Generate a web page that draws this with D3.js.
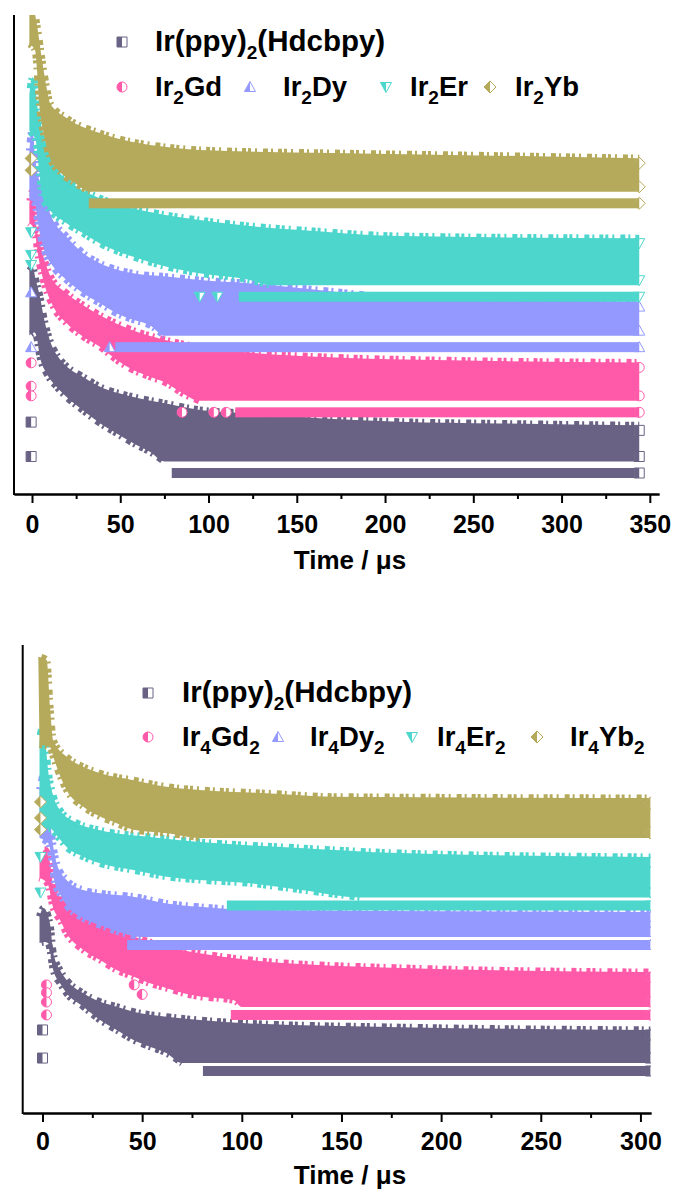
<!DOCTYPE html>
<html>
<head>
<meta charset="utf-8">
<script src="https://cdn.jsdelivr.net/npm/d3@7"></script>
<style>
  body { margin: 0; background: #fff; }
  svg { display: block; font-family: "Liberation Sans", Arial, sans-serif; }
</style>
</head>
<body>
<svg id="chart" width="676" height="1192"></svg>
<script>
// ---- data (time in µs, photon counts per channel) ----
const seriesColors = ['#696284', '#ff5aa9', '#9399ff', '#4cd6cc', '#b5aa5b'];
const seriesShapes = ['square', 'circle', 'triangle', 'triangleDown', 'diamond'];

const legendTop = ['Ir(ppy)_{2}(Hdcbpy)', 'Ir_{2}Gd', 'Ir_{2}Dy', 'Ir_{2}Er', 'Ir_{2}Yb'];
const legendBottom = ['Ir(ppy)_{2}(Hdcbpy)', 'Ir_{4}Gd_{2}', 'Ir_{4}Dy_{2}', 'Ir_{4}Er_{2}', 'Ir_{4}Yb_{2}'];

const xTicksTop = [0, 50, 100, 150, 200, 250, 300, 350];
const xMinorTop = [25, 75, 125, 175, 225, 275, 325];
const xTicksBottom = [0, 50, 100, 150, 200, 250, 300];
const xMinorBottom = [25, 75, 125, 175, 225, 275];

// vertical offset factors used to stack the curves
const offsetsTop = [1, 12.8, 198, 1648, 83500];
const offsetsBottom = [1, 20.1, 851, 7060, 171000];

// upper / lower edge of each point cloud: [t, counts]
const topUpper = [
  [[-1.5, 4000], [0.5, 4500], [2, 2800], [4.5, 1340], [7, 500], [10, 220], [15, 105], [20, 70], [29, 46], [38, 31], [57, 20], [76, 15], [95, 11.5], [123, 10], [165, 8], [208, 7], [265, 6.5], [344, 6]],
  [[-1.5, 5000], [0, 8500], [2.3, 2100], [6.2, 600], [10.2, 257], [19.6, 121], [29, 73], [38.5, 48], [57, 25.5], [76, 16.8], [95, 12.5], [123, 10], [169, 8.2], [237, 7.2], [344, 6.6]],
  [[-1.5, 3000], [0, 7400], [2.3, 1700], [6.2, 600], [10.2, 225], [19.6, 84], [29, 42], [38.5, 27.5], [57.4, 18], [76.3, 15.7], [95, 13.6], [123, 11.9], [169, 8.5], [208, 6.5], [344, 5.5]],
  [[-1.5, 4000], [0.5, 8300], [3.4, 2070], [7.4, 587], [13, 205], [24.3, 88], [38.5, 51], [66.8, 28.5], [95, 20.3], [123.4, 15.8], [151.7, 13.4], [208, 10.4], [344, 9.5]],
  [[-1.5, 2500], [0.6, 3000], [2.8, 1450], [5.7, 334], [8.5, 95], [10.2, 55], [19.8, 29], [38.5, 15.5], [57.2, 10.6], [76.4, 8.6], [95, 7.6], [170, 6.7], [237, 6.2], [344, 5.4]]
];
const topLower = [
  [[-1.5, 400], [1.5, 450], [2.6, 380], [4.5, 163], [8.3, 81], [14, 46], [19.6, 30], [29, 17], [38.5, 10], [48, 6.5], [57.4, 4.3], [66.8, 3], [75, 2], [344, 2]],
  [[-1.5, 3500], [1.5, 2500], [3.6, 850], [6.4, 320], [12.1, 104], [19.6, 52], [29, 29.6], [38.5, 19.4], [48, 11.1], [57.4, 7.3], [66.8, 5.5], [76.3, 4.2], [85.7, 2.7], [95, 2], [344, 2]],
  [[-1.5, 600], [2, 500], [2.6, 344], [6.4, 84], [12.1, 36], [19.6, 20.8], [29, 11.9], [38.5, 7.8], [48, 5.1], [57.4, 3.9], [66.8, 3.1], [75, 2], [344, 2]],
  [[-1.5, 1300], [2, 900], [4, 250], [6.4, 72], [19.6, 27], [29, 17.7], [38.5, 11.6], [57.4, 6.6], [76.3, 4.35], [95, 3.3], [123.4, 2.5], [135, 2], [344, 2]],
  [[-1.5, 1000], [1.7, 770], [4.5, 62], [7.4, 17.6], [10.2, 8.3], [15.9, 4.6], [24.3, 2.9], [32.8, 2], [344, 2]]
];
// runs of single-count channels: [tStart, tEnd, counts]
const topRuns = [
  [[82, 344, 1]],
  [[118, 344, 1]],
  [[50, 344, 1]],
  [[120, 344, 1]],
  [[35, 344, 1]]
];
// isolated points: [t, counts]
const topStrays = [
  [[-0.5, 8.5], [-0.5, 2]],
  [[-0.5, 8], [-0.5, 3], [-0.5, 2], [85, 1], [103, 1], [110, 1]],
  [[-0.5, 10], [-0.5, 1], [44, 1]],
  [[-0.5, 15], [-0.5, 5.8], [-0.5, 3.8], [95, 1], [105, 1]],
  [[-0.5, 6.6], [-0.5, 4]]
];

const bottomUpper = [
  [[-1.5, 3000], [0.5, 4700], [3.8, 2000], [5.4, 420], [8.8, 171], [12.1, 100], [20.5, 49], [28.9, 31], [37.2, 24], [45.6, 18.3], [62.3, 14], [79, 11.7], [104, 9.8], [180, 8], [305, 6.9]],
  [[-1.5, 3000], [1, 5300], [3.8, 2570], [5.4, 738], [8.8, 431], [12.1, 302], [20.5, 177], [28.9, 104], [37.2, 72], [45.6, 51], [62.3, 29.6], [79, 20.8], [104, 14.5], [180, 9.5], [305, 7.6]],
  [[-1.5, 3000], [1, 7700], [3, 1500], [5, 200], [7.1, 61], [12.1, 25], [20.5, 14.5], [28.9, 12.2], [45.6, 10.2], [62.3, 7.1], [79, 5.9], [104, 5], [305, 4.5]],
  [[-1.5, 5000], [-0.5, 9100], [1.3, 5400], [2.8, 1090], [5.3, 285], [8.8, 127], [16.3, 67], [29, 43], [54, 30], [79, 23], [129, 16.7], [179, 12.7], [305, 10.3]],
  [[-2.1, 19300], [2.1, 16200], [3.8, 1330], [5.4, 223], [12.1, 91], [20.5, 53], [28.9, 37.5], [45.6, 26], [62.3, 18.3], [79, 15.4], [112.5, 12.9], [146, 10.7], [305, 10]]
];
const bottomLower = [
  [[-1.5, 1240], [1, 1300], [2.9, 1220], [5.4, 292], [8.8, 143], [12.1, 84], [20.5, 41], [28.9, 20], [37.2, 11.7], [45.6, 6.9], [53.9, 4.8], [62.3, 3.4], [70, 2], [305, 2]],
  [[-1.5, 2000], [2.5, 1500], [5.4, 400], [8.8, 212], [12.1, 104], [20.5, 42.5], [28.9, 24.9], [37.2, 14.5], [45.6, 10.2], [53.9, 7.1], [62.3, 5.5], [70.7, 4.2], [79, 3.5], [95.7, 2.9], [100, 2], [305, 2]],
  [[-1.5, 400], [3, 300], [5, 100], [6, 40], [8.8, 20], [12.1, 11], [20.5, 5.5], [28.9, 3.8], [40, 2.5], [50, 2], [305, 2]],
  [[-1.5, 80], [3.8, 80], [8, 50], [12.1, 30], [20.5, 17.8], [28.9, 12.5], [45.6, 8.7], [62.3, 6.1], [79, 5.1], [104, 4.3], [130, 3], [160, 2], [305, 2]],
  [[-1.5, 300], [4, 250], [5.4, 156], [12.1, 26], [20.5, 10.7], [28.9, 6.3], [37.2, 4.4], [45.6, 3.1], [62.3, 2.6], [80, 2], [305, 2]]
];
const bottomRuns = [
  [[83, 305, 1]],
  [[97, 305, 1]],
  [[45, 305, 1]],
  [[95, 305, 1]],
  []
];
const bottomStrays = [
  [[0, 9], [0, 2]],
  [[2, 5], [2, 3.3], [2, 2], [2, 1], [46, 5], [50, 3]],
  [],
  [[-1, 13.5], [-1, 2]],
  [[-1, 10.6], [-1, 4.5], [-1, 2.4]]
];

// half-filled marker glyphs (left half coloured, right half white)
const shapePaths = {
  square:       { full: 'M-5,-5H5V5H-5Z',              left: 'M-5,-5H0V5H-5Z' },
  circle:       { full: 'M0,-5A5,5 0 1,1 0,5A5,5 0 1,1 0,-5Z', left: 'M0,-5A5,5 0 0,0 0,5Z' },
  triangle:     { full: 'M0,-5.5L5.5,4.5H-5.5Z',       left: 'M0,-5.5L-5.5,4.5H0Z' },
  triangleDown: { full: 'M0,5.5L5.5,-4.5H-5.5Z',       left: 'M0,5.5L-5.5,-4.5H0Z' },
  diamond:      { full: 'M0,-6L6,0L0,6L-6,0Z',         left: 'M0,-6L-6,0L0,6Z' }
};

class DecayPanel {

  constructor(_config, _data) {
    this.config = {
      parentElement: _config.parentElement,
      id: _config.id,
      left: _config.left,
      right: _config.right,
      top: _config.top,
      bottom: _config.bottom,
      xDomain: _config.xDomain,
      yDomain: _config.yDomain,
      tickPadding: _config.tickPadding || 12,
      titleY: _config.titleY,
      legend: _config.legend,
      half: 5
    };
    this.data = _data;
    this.initVis();
  }

  initVis() {
    let vis = this;

    vis.xScale = d3.scaleLinear()
      .domain(vis.config.xDomain)
      .range([vis.config.left, vis.config.right]);

    vis.yScale = d3.scaleLog()
      .domain(vis.config.yDomain)
      .range([vis.config.bottom, vis.config.top]);

    vis.xAxis = d3.axisBottom(vis.xScale)
      .tickValues(vis.data.ticks)
      .tickSize(9)
      .tickSizeOuter(0)
      .tickPadding(vis.config.tickPadding)
      .tickFormat(d3.format('d'));

    vis.xMinorAxis = d3.axisBottom(vis.xScale)
      .tickValues(vis.data.minorTicks)
      .tickSize(5)
      .tickSizeOuter(0)
      .tickFormat('');

    vis.svg = d3.select(vis.config.parentElement);
    vis.panel = vis.svg.append('g').attr('class', `panel ${vis.config.id}`);

    vis.panel.append('clipPath')
        .attr('id', `clip-${vis.config.id}`)
      .append('rect')
        .attr('x', vis.config.left)
        .attr('y', vis.config.top)
        .attr('width', vis.config.right - vis.config.left)
        .attr('height', vis.config.bottom - vis.config.top);

    vis.chart = vis.panel.append('g')
      .attr('clip-path', `url(#clip-${vis.config.id})`);

    vis.xAxisG = vis.panel.append('g')
      .attr('class', 'axis x-axis')
      .attr('transform', `translate(0,${vis.config.bottom})`);
    vis.xMinorG = vis.panel.append('g')
      .attr('class', 'axis x-minor')
      .attr('transform', `translate(0,${vis.config.bottom})`);

    vis.legendG = vis.panel.append('g').attr('class', 'legend');

    vis.renderVis();
  }

  drawMarker(sel, i) {
    const shape = shapePaths[seriesShapes[i]];
    const color = seriesColors[i];
    sel.append('path').attr('d', shape.full)
      .attr('fill', '#fff').attr('stroke', color).attr('stroke-width', 1);
    sel.append('path').attr('d', shape.left).attr('fill', color);
  }

  renderVis() {
    let vis = this;
    const half = vis.config.half;

    vis.data.upper.forEach((upper, i) => {
      const lower = vis.data.lower[i];
      const off = vis.data.offsets[i];
      const color = seriesColors[i];
      const sg = vis.chart.append('g').attr('class', `series s-${i}`);

      // dense cloud of channels -> band between the upper and lower edge
      const upLine = d3.line()
        .x(d => vis.xScale(d[0]))
        .y(d => vis.yScale(d[1] * off) - half)
        .curve(d3.curveMonotoneX);
      const loLine = d3.line()
        .x(d => vis.xScale(d[0]))
        .y(d => vis.yScale(d[1] * off) + half)
        .curve(d3.curveMonotoneX);
      sg.append('path')
        .attr('d', upLine(upper) + 'L' + loLine(lower.slice().reverse()).slice(1) + 'Z')
        .attr('fill', color);

      // ragged edges of the point cloud (the lower one only above the 2-count floor)
      const floorStart = lower.findIndex(d => d[1] <= 2);
      const ragged = [upLine(upper), loLine(lower.slice(0, floorStart + 1))];
      sg.selectAll('path.ragged')
          .data(ragged)
        .join('path')
          .attr('class', 'ragged')
          .attr('d', d => d)
          .attr('fill', 'none')
          .attr('stroke', color)
          .attr('stroke-width', 7)
          .attr('stroke-dasharray', '3 4 2 6 5 3 2 5 4 2')
          .attr('stroke-dashoffset', (d, k) => i * 3 + k * 5);

      sg.selectAll('rect.run')
          .data(vis.data.runs[i])
        .join('rect')
          .attr('class', 'run')
          .attr('x', d => vis.xScale(d[0]) - half)
          .attr('y', d => vis.yScale(d[2] * off) - half)
          .attr('width', d => vis.xScale(d[1]) - vis.xScale(d[0]) + half)
          .attr('height', 2 * half)
          .attr('fill', color);

      // strays, last channel of every run and of the cloud
      const marks = vis.data.strays[i]
        .concat(vis.data.runs[i].map(d => [d[1], d[2]]))
        .concat([upper[upper.length - 1], lower[lower.length - 1]]);

      sg.selectAll('g.marker')
          .data(marks)
        .join('g')
          .attr('class', 'marker')
          .attr('transform', d => `translate(${vis.xScale(d[0])},${vis.yScale(d[1] * off)})`)
          .each(function() { vis.drawMarker(d3.select(this), i); });
    });

    // axes
    vis.xAxisG.call(vis.xAxis);
    vis.xMinorG.call(vis.xMinorAxis);
    [vis.xAxisG, vis.xMinorG].forEach(g => {
      g.select('.domain').attr('stroke-width', 2);
      g.selectAll('.tick line').attr('stroke-width', 2);
    });
    vis.xAxisG
      .attr('font-size', 25)
      .attr('font-weight', 'bold')
      .attr('font-family', '"Liberation Sans", Arial, sans-serif');

    vis.panel.append('line')
      .attr('x1', vis.config.left).attr('x2', vis.config.left)
      .attr('y1', vis.config.top).attr('y2', vis.config.bottom + 1)
      .attr('stroke', '#000')
      .attr('stroke-width', 2);

    vis.panel.append('text')
      .attr('x', 350)
      .attr('y', vis.config.titleY)
      .attr('text-anchor', 'middle')
      .attr('font-size', 26)
      .attr('font-weight', 'bold')
      .text('Time / μs');

    // legend
    vis.config.legend.forEach((pos, i) => {
      const mg = vis.legendG.append('g')
        .attr('transform', `translate(${pos.mx},${pos.my})`);
      vis.drawMarker(mg, i);

      const txt = vis.legendG.append('text')
        .attr('x', pos.tx)
        .attr('y', pos.my + 9)
        .attr('font-size', i === 0 ? 29.5 : 27.5)
        .attr('font-weight', 'bold');
      let inSub = false;
      vis.data.labels[i].split(/(_\{[^}]*\})/).filter(s => s.length).forEach(part => {
        if (part.startsWith('_{')) {
          txt.append('tspan').attr('font-size', 19).attr('dy', 8).text(part.slice(2, -1));
          inSub = true;
        } else {
          txt.append('tspan').attr('dy', inSub ? -8 : 0).text(part);
          inSub = false;
        }
      });
    });
  }
}

new DecayPanel({
  parentElement: '#chart',
  id: 'top',
  left: 14, right: 659, top: 15, bottom: 494,
  xDomain: [-10.2, 355.2],
  yDomain: [0.414, 2.28e8],
  tickPadding: 12,
  titleY: 569,
  legend: [
    { mx: 122, my: 42, tx: 155 },
    { mx: 122, my: 87, tx: 155 },
    { mx: 250, my: 87, tx: 283 },
    { mx: 386, my: 87, tx: 410 },
    { mx: 490, my: 87, tx: 515 }
  ]
}, {
  upper: topUpper, lower: topLower, runs: topRuns, strays: topStrays,
  offsets: offsetsTop, ticks: xTicksTop, minorTicks: xMinorTop, labels: legendTop
});

new DecayPanel({
  parentElement: '#chart',
  id: 'bottom',
  left: 22.7, right: 651, top: 645, bottom: 1113,
  xDomain: [-9.93, 305.3],
  yDomain: [0.1055, 8.07e9],
  tickPadding: 10,
  titleY: 1184,
  legend: [
    { mx: 148, my: 693, tx: 182 },
    { mx: 148, my: 737, tx: 182 },
    { mx: 278, my: 737, tx: 310 },
    { mx: 412, my: 737, tx: 437 },
    { mx: 537, my: 737, tx: 570 }
  ]
}, {
  upper: bottomUpper, lower: bottomLower, runs: bottomRuns, strays: bottomStrays,
  offsets: offsetsBottom, ticks: xTicksBottom, minorTicks: xMinorBottom, labels: legendBottom
});
</script>
</body>
</html>
